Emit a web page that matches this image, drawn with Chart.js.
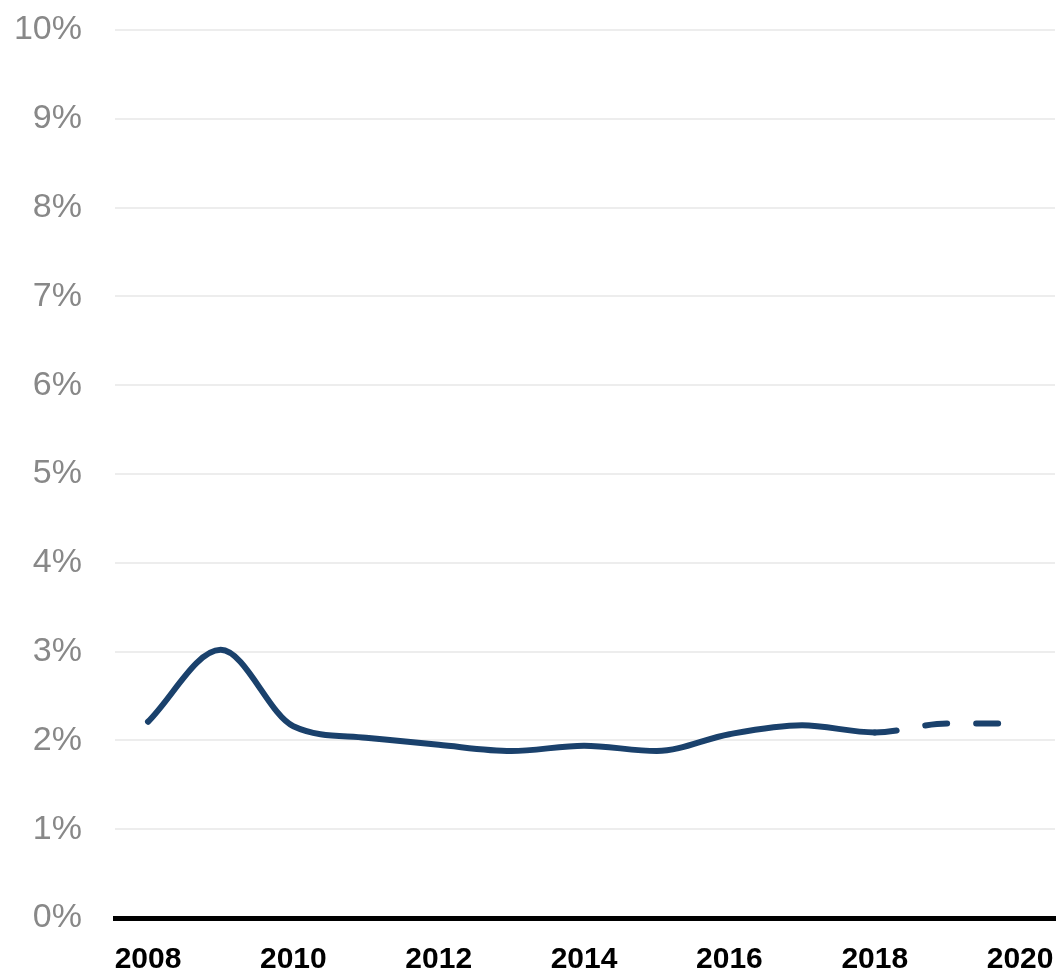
<!DOCTYPE html>
<html>
<head>
<meta charset="utf-8">
<script src="https://cdn.jsdelivr.net/npm/chart.js@4/dist/chart.umd.min.js"></script>
<style>
  html, body { margin: 0; padding: 0; background: #fff; }
  #wrap { width: 1057px; height: 970px; position: relative; }
</style>
</head>
<body>
<div id="wrap"><canvas id="c" width="1057" height="970"></canvas></div>
<script>
const years = [2008, 2009, 2010, 2011, 2012, 2013, 2014, 2015, 2016, 2017, 2018, 2019, 2019.7];
const rates = [2.21, 3.02, 2.16, 2.03, 1.95, 1.88, 1.94, 1.88, 2.07, 2.17, 2.09, 2.19, 2.19];
const forecastFrom = 2018;
const xTickValues = [2008, 2010, 2012, 2014, 2016, 2018, 2020];
const yTickValues = [0, 1, 2, 3, 4, 5, 6, 7, 8, 9, 10];

const points = years.map((y, i) => ({ x: y, y: rates[i] }));

new Chart(document.getElementById('c'), {
  type: 'line',
  data: {
    datasets: [{
      data: points,
      borderColor: '#1a416c',
      borderWidth: 6,
      borderCapStyle: 'round',
      borderJoinStyle: 'round',
      pointRadius: 0,
      cubicInterpolationMode: 'monotone',
      fill: false,
      segment: {
        borderDash: ctx => ctx.p0.parsed.x >= forecastFrom ? [22, 29] : undefined
      }
    }]
  },
  options: {
    responsive: false,
    animation: false,
    layout: { padding: { left: 0, right: 2, top: 30, bottom: 0 } },
    plugins: { legend: { display: false }, tooltip: { enabled: false } },
    scales: {
      x: {
        type: 'linear',
        min: 2007.546,
        max: 2020.48,
        afterBuildTicks: a => { a.ticks = xTickValues.map(v => ({ value: v })); },
        afterFit: s => { s.height = 52; s.paddingLeft = 0; s.paddingRight = 0; },
        grid: { display: false, drawTicks: false },
        border: { display: true, color: '#000', width: 5 },
        ticks: {
          color: '#000',
          font: { family: 'Liberation Sans, Arial, sans-serif', size: 30, weight: 'bold' },
          padding: 24,
          maxRotation: 0,
          autoSkip: false,
          callback: v => String(v)
        }
      },
      y: {
        min: 0,
        max: 10,
        afterBuildTicks: a => { a.ticks = yTickValues.map(v => ({ value: v })); },
        afterFit: s => { s.width = 115; s.paddingTop = 0; s.paddingBottom = 0; },
        grid: { color: '#ededed', lineWidth: 2, drawTicks: false },
        border: { display: false },
        ticks: {
          color: '#888888',
          font: { family: 'Liberation Sans, Arial, sans-serif', size: 34 },
          padding: 33,
          callback: v => v + '%'
        }
      }
    }
  }
});
</script>
</body>
</html>
